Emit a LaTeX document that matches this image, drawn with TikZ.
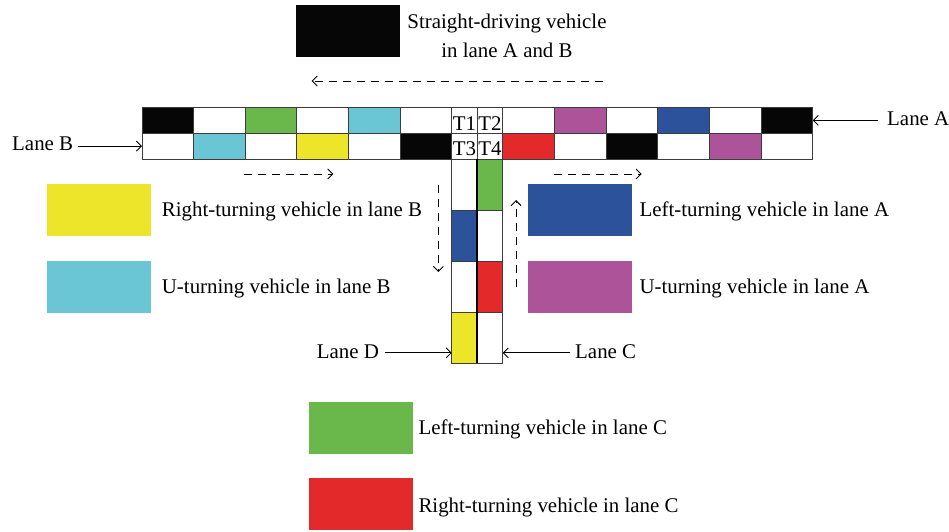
\documentclass[tikz,border=0pt]{standalone}
\usepackage{fontspec}
\setmainfont{Liberation Serif}
\usetikzlibrary{arrows.meta}

\definecolor{vblack}{HTML}{060606}
\definecolor{vgreen}{HTML}{6AB74B}
\definecolor{vcyan}{HTML}{6AC5D4}
\definecolor{vyellow}{HTML}{ECE52A}
\definecolor{vpurple}{HTML}{AD5399}
\definecolor{vblue}{HTML}{2D529C}
\definecolor{vred}{HTML}{E3292A}
\definecolor{gridline}{HTML}{3C3C3C}

\newcommand\lblfont{\fontsize{20.9}{24}\selectfont}

\tikzset{
  cell/.style={draw=gridline, line width=0.9pt, fill=white, inner sep=0pt,
    outer sep=0pt, anchor=north west, minimum width=51.65pt, minimum height=25.75pt},
  tcell/.style={cell, minimum width=25.5pt},
  vcell/.style={cell, minimum width=25.5pt, minimum height=51.1pt},
  keybox/.style={inner sep=0pt, outer sep=0pt, anchor=north west,
    minimum width=104pt, minimum height=51.5pt},
  keytext/.style={anchor=base west, inner sep=0pt, font=\lblfont},
  tlabel/.style={anchor=base, inner sep=0pt, font=\lblfont},
  lanearrow/.style={line width=0.9pt, -{Straight Barb[length=5pt,width=10pt]}},
  flow/.style={line width=0.9pt, dash pattern=on 8pt off 6pt,
    -{Straight Barb[length=5pt,width=10pt]}},
}

\begin{document}
\begin{tikzpicture}[x=1pt,y=-1pt]
\useasboundingbox (0,0) rectangle (949,531);

% horizontal road, lane A (top row) and lane B (bottom row)
\foreach \col [count=\i] in {vblack,white,vgreen,white,vcyan,white}
  \node[cell, fill=\col] (AL\i) at ({142+(\i-1)*51.62},107.5) {};
\foreach \col [count=\i] in {white,vpurple,white,vblue,white,vblack}
  \node[cell, fill=\col] (AR\i) at ({502.7+(\i-1)*51.67},107.5) {};
\foreach \col [count=\i] in {white,vcyan,white,vyellow,white,vblack}
  \node[cell, fill=\col] (BL\i) at ({142+(\i-1)*51.62},133.25) {};
\foreach \col [count=\i] in {vred,white,vblack,white,vpurple,white}
  \node[cell, fill=\col] (BR\i) at ({502.7+(\i-1)*51.67},133.25) {};

% conflict zone
\node[tcell] (T1) at (451.7,107.5) {};
\node[tcell] (T2) at (477.2,107.5) {};
\node[tcell] (T3) at (451.7,133.25) {};
\node[tcell] (T4) at (477.2,133.25) {};
\node[tlabel] (t1) at ([yshift=2.8pt]T1.south) {T1};
\node[tlabel] (t2) at ([yshift=2.8pt]T2.south) {T2};
\node[tlabel] (t3) at ([yshift=3.3pt]T3.south) {T3};
\node[tlabel] (t4) at ([yshift=3.3pt]T4.south) {T4};

% vertical road, lane D (left) and lane C (right)
\foreach \col [count=\i] in {white,vblue,white,vyellow}
  \node[vcell, fill=\col] (D\i) at (451.7,{159+(\i-1)*51.1}) {};
\foreach \col [count=\i] in {vgreen,white,vred,white}
  \node[vcell, fill=\col] (C\i) at (477.2,{159+(\i-1)*51.1}) {};
\draw[line width=1.6pt] (C1.north west) -- (C4.south west);

% lane labels and entry arrows
\node[keytext] (laneB) at (12,150) {Lane B};
\draw[lanearrow, shorten <=5pt] (laneB.east |- BL1.west) -- (BL1.west);
\node[keytext] (laneA) at (887,125) {Lane A};
\draw[lanearrow, shorten <=9pt] (laneA.west |- AR6.east) -- (AR6.east);
\coordinate (dIn) at ([yshift=10.5pt]D4.south west);
\coordinate (cIn) at ([yshift=10.5pt]C4.south east);
\node[keytext] (laneD) at (316.7,358.5) {Lane D};
\draw[lanearrow, shorten <=6pt] (laneD.east |- dIn) -- (dIn);
\node[keytext] (laneC) at (575,358.5) {Lane C};
\draw[lanearrow, shorten <=5pt] (laneC.west |- cIn) -- (cIn);

% traffic flow directions
\coordinate (fTopS) at (603.3,81);  \coordinate (fTopE) at (311.7,81);
\coordinate (fBS) at (244,174);     \coordinate (fBE) at (333.3,174);
\coordinate (fAS) at (554,174);     \coordinate (fAE) at (641.7,174);
\coordinate (fDS) at (438.3,185);   \coordinate (fDE) at (438.3,272);
\coordinate (fCS) at (516,287);     \coordinate (fCE) at (516,200);
\draw[flow] (fTopS) -- (fTopE);
\draw[flow] (fBS) -- (fBE);
\draw[flow] (fAS) -- (fAE);
\draw[flow] (fDS) -- (fDE);
\draw[flow] (fCS) -- (fCE);

% legend
\node[keybox, fill=vblack] (kStraight) at (296,5) {};
\node[tlabel] (tStraight1) at (507,28.5) {Straight-driving vehicle};
\node[tlabel] (tStraight2) at (507,57) {in lane A and B};

\node[keybox, fill=vyellow] (kRB) at (46.7,184.3) {};
\node[keytext] (tRB) at (161.7,216.7) {Right-turning vehicle in lane B};
\node[keybox, fill=vcyan] (kUB) at (46.7,261) {};
\node[keytext] (tUB) at (161.7,293.3) {U-turning vehicle in lane B};

\node[keybox, fill=vblue] (kLA) at (528,184.3) {};
\node[keytext] (tLA) at (639.3,216.7) {Left-turning vehicle in lane A};
\node[keybox, fill=vpurple] (kUA) at (528,261) {};
\node[keytext] (tUA) at (639.3,293.3) {U-turning vehicle in lane A};

\node[keybox, fill=vgreen] (kLC) at (309,402.3) {};
\node[keytext] (tLC) at (418.3,434.5) {Left-turning vehicle in lane C};
\node[keybox, fill=vred] (kRC) at (309,478) {};
\node[keytext] (tRC) at (418.3,512.5) {Right-turning vehicle in lane C};
\end{tikzpicture}
\end{document}
